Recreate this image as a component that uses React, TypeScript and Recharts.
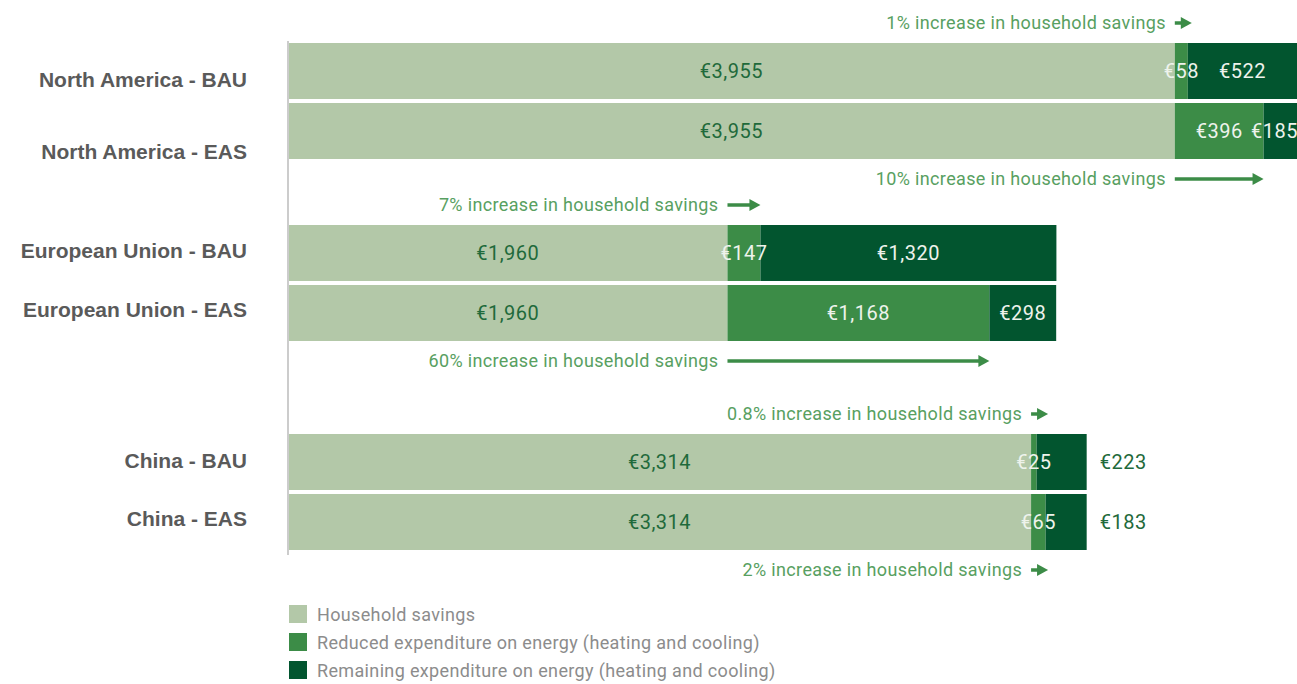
import React from 'react';
import { BarChart, Bar, XAxis, YAxis, LabelList, Legend } from 'recharts';

// ---- data ----
const scenarios = [
  'North America - BAU',
  'North America - EAS',
  'European Union - BAU',
  'European Union - EAS',
  'China - BAU',
  'China - EAS',
];
const householdSavings = [3955, 3955, 1960, 1960, 3314, 3314];
const reducedExpenditure = [58, 396, 147, 1168, 25, 65];
const remainingExpenditure = [522, 185, 1320, 298, 223, 183];
const savingsIncrease = ['1%', '10%', '7%', '60%', '0.8%', '2%'];
const seriesNames = [
  'Household savings',
  'Reduced expenditure on energy (heating and cooling)',
  'Remaining expenditure on energy (heating and cooling)',
];

const COLORS = ['#b3c8a8', '#3c8c47', '#02552f'];
const LABEL_DARK = '#1f6a3b';
const LABEL_LIGHT = '#eef3ec';
const NOTE_COLOR = '#58a061';
const FONT = 'Roboto, "Noto Sans", sans-serif';
const CHART_W = 1297;

const rows = scenarios.map((s, i) => ({
  scenario: s,
  savings: householdSavings[i],
  reduced: reducedExpenditure[i],
  remaining: remainingExpenditure[i],
  increase: savingsIncrease[i],
}));

const euro = (v: number) => '€' + Number(v).toLocaleString('en-US');

const box = (p: any) => {
  const vb = p.viewBox || {};
  return {
    x: Number(p.x ?? vb.x ?? 0),
    y: Number(p.y ?? vb.y ?? 0),
    width: Number(p.width ?? vb.width ?? 0),
    height: Number(p.height ?? vb.height ?? 0),
  };
};

const makeTick = (offsets: number[]) => (p: any) => (
  <text
    x={p.x}
    y={p.y + (offsets[p.index] ?? 0)}
    dy="0.36em"
    textAnchor="end"
    fontFamily='"Liberation Sans", Arial, sans-serif'
    fontWeight={700}
    fontSize={21}
    fill="#5a5a5a"
  >
    {p.payload?.value}
  </text>
);

const valueText = (cx: number, cy: number, text: string, color: string, anchor: 'middle' | 'start' = 'middle') => (
  <text
    x={cx}
    y={cy}
    dy="0.36em"
    textAnchor={anchor}
    fontFamily={FONT}
    fontSize={20}
    letterSpacing={0.5}
    fill={color}
  >
    {text}
  </text>
);

const makeInsideLabel = (color: string) => (p: any) => {
  const { x, y, width, height } = box(p);
  const text = euro(p.value);
  const half = text.length * 5.6;
  const cx = Math.min(x + width / 2, CHART_W - half);
  return valueText(cx, y + height / 2, text, color);
};

const makeReducedLabel = (start: number) => (p: any) => {
  const { x, y, width, height } = box(p);
  const i = start + (p.index ?? 0);
  const above = i % 2 === 0;
  const cy = above ? y - 20 : y + height + 20;
  const len = Math.max(width, 17);
  const xe = x + len;
  return (
    <g>
      {valueText(x + width / 2, y + height / 2, euro(p.value), LABEL_LIGHT)}
      <text
        x={x - 9}
        y={cy}
        dy="0.36em"
        textAnchor="end"
        fontFamily={FONT}
        fontSize={18}
        letterSpacing={0.35}
        fill={NOTE_COLOR}
      >
        {`${rows[i].increase} increase in household savings`}
      </text>
      <line x1={x} y1={cy} x2={xe - 8} y2={cy} stroke={COLORS[1]} strokeWidth={3.5} />
      <polygon points={`${xe},${cy} ${xe - 11},${cy - 6} ${xe - 11},${cy + 6}`} fill={COLORS[1]} />
    </g>
  );
};

const makeRemainingLabel = (outside: boolean) => (p: any) => {
  const { x, y, width, height } = box(p);
  if (outside) {
    return valueText(x + width + 13, y + height / 2, euro(p.value), LABEL_DARK, 'start');
  }
  return makeInsideLabel(LABEL_LIGHT)(p);
};

const LegendContent = () => (
  <div style={{ fontFamily: FONT, fontSize: 18, letterSpacing: 0.35, color: '#8c8c8c' }}>
    {seriesNames.map((n, i) => (
      <div key={n} style={{ display: 'flex', alignItems: 'center', height: 28, whiteSpace: 'nowrap' }}>
        <div style={{ width: 18, height: 18, background: COLORS[i], marginRight: 10 }} />
        <span>{n}</span>
      </div>
    ))}
  </div>
);

type GroupProps = {
  start: number;
  height: number;
  marginTop: number;
  marginBottom: number;
  padTop: number;
  padBottom: number;
  tickOffsets: number[];
  outside?: boolean;
  legend?: boolean;
};

const Group = ({ start, height, marginTop, marginBottom, padTop, padBottom, tickOffsets, outside, legend }: GroupProps) => {
  const Tick = makeTick(tickOffsets);
  return (
    <BarChart
      width={CHART_W}
      height={height}
      data={rows.slice(start, start + 2)}
      layout="vertical"
      margin={{ top: marginTop, right: 0, bottom: marginBottom, left: 0 }}
      barSize={56}
      style={{ overflow: 'visible' }}
    >
      <XAxis type="number" hide domain={[0, 4500]} allowDataOverflow />
      <YAxis
        type="category"
        dataKey="scenario"
        width={288}
        tickLine={false}
        tickSize={0}
        tickMargin={41}
        interval={0}
        axisLine={{ stroke: '#cccccc', strokeWidth: 2 }}
        padding={{ top: padTop, bottom: padBottom }}
        tick={<Tick />}
      />
      <Bar dataKey="savings" name={seriesNames[0]} stackId="a" fill={COLORS[0]} isAnimationActive={false}>
        <LabelList dataKey="savings" content={makeInsideLabel(LABEL_DARK)} />
      </Bar>
      <Bar dataKey="reduced" name={seriesNames[1]} stackId="a" fill={COLORS[1]} isAnimationActive={false}>
        <LabelList dataKey="reduced" content={makeReducedLabel(start)} />
      </Bar>
      <Bar dataKey="remaining" name={seriesNames[2]} stackId="a" fill={COLORS[2]} isAnimationActive={false}>
        <LabelList dataKey="remaining" content={makeRemainingLabel(!!outside)} />
      </Bar>
      {legend && (
        <Legend
          layout="vertical"
          align="center"
          verticalAlign="middle"
          content={<LegendContent />}
          wrapperStyle={{ position: 'absolute', left: 289, top: 212, width: 'auto', height: 'auto' }}
        />
      )}
    </BarChart>
  );
};

export default function App() {
  return (
    <div style={{ position: 'absolute', left: 0, top: 0, width: 1297, height: 684, background: '#ffffff', overflow: 'hidden' }}>
      <Group start={0} height={192} marginTop={41} marginBottom={0} padTop={0} padBottom={31} tickOffsets={[8, 20]} />
      <Group start={2} height={196} marginTop={0} marginBottom={0} padTop={31} padBottom={45} tickOffsets={[-3, -4]} />
      <Group start={4} height={296} marginTop={0} marginBottom={129} padTop={44} padBottom={3} tickOffsets={[-2, -4]} outside legend />
    </div>
  );
}
